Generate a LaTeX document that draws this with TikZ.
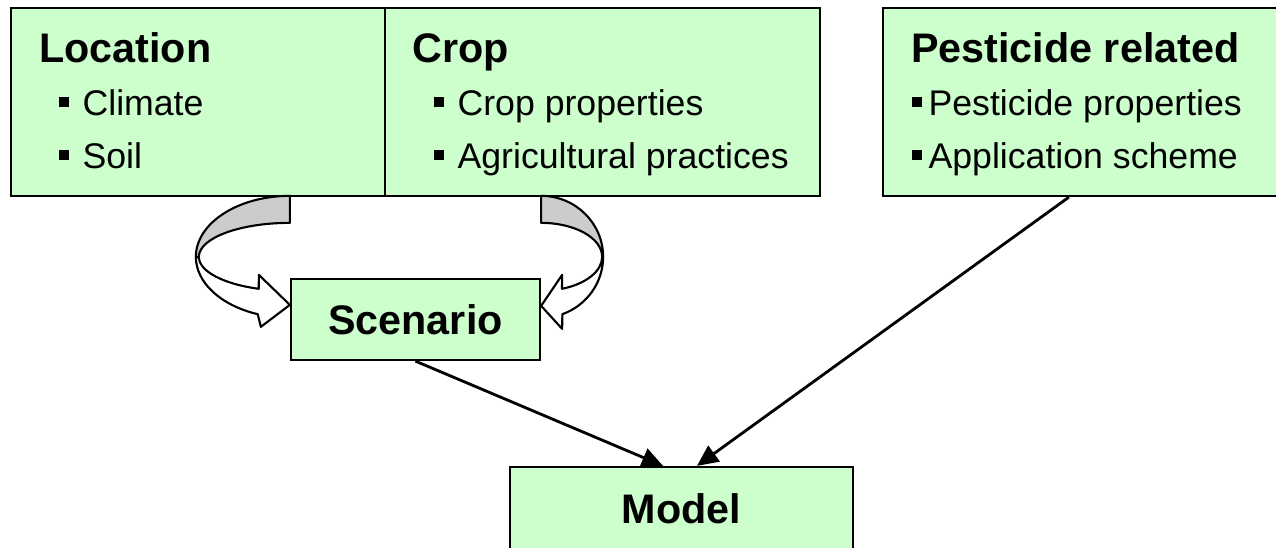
\documentclass[tikz,border=0pt]{standalone}
\usepackage{fontspec}
\setmainfont{Liberation Sans}
\usetikzlibrary{arrows.meta, positioning, calc}
\definecolor{boxgreen}{RGB}{204, 255, 204}
\definecolor{ribbongray}{RGB}{204, 204, 204}
\newcommand{\sqbullet}{\rule[5pt]{5.8pt}{5.8pt}}
\tikzset{
  box/.style={draw=black, fill=boxgreen, line width=1.3pt, inner sep=0pt},
  headtext/.style={anchor=base west, inner sep=0pt, font=\fontsize{23.5}{28}\selectfont\bfseries},
  itemtext/.style={anchor=base west, inner sep=0pt, font=\fontsize{20.3}{24}\selectfont},
  ribbon/.style={draw=black, line width=1.2pt, line join=round},
  link/.style={draw=black, line width=1.6pt, -{Triangle[length=12pt, width=11pt]}}
}

\begin{document}
\begin{tikzpicture}
  \clip (0, 0) rectangle (25.52, -10.94);
  \fill[white] (0, 0) rectangle (25.52, -10.94);

  % The three input boxes
  \node[box, minimum width=7.48cm, minimum height=3.76cm] (location) at (3.96, -2.04) {};
  \node[box, minimum width=8.7cm, minimum height=3.76cm] (crop) at (12.05, -2.04) {};
  \node[box, minimum width=8.1cm, minimum height=3.76cm] (pesticide) at (21.71, -2.04) {};

  \node[headtext] (locationhead) at ($(location.north west)+(0.58, -1.12)$) {Location};
  \node[itemtext] (climate) at ($(location.north west)+(0.98, -2.18)$) {\sqbullet\hspace{7.5pt}Climate};
  \node[itemtext] (soil) at ($(location.north west)+(0.98, -3.24)$) {\sqbullet\hspace{7.5pt}Soil};

  \node[headtext] (crophead) at ($(crop.north west)+(0.56, -1.12)$) {Crop};
  \node[itemtext] (cropprop) at ($(crop.north west)+(1.00, -2.18)$) {\sqbullet\hspace{7.5pt}Crop properties};
  \node[itemtext] (practices) at ($(crop.north west)+(1.00, -3.24)$) {\sqbullet\hspace{7.5pt}Agricultural practices};

  \node[headtext] (pesthead) at ($(pesticide.north west)+(0.58, -1.12)$) {Pesticide related};
  \node[itemtext] (pestprop) at ($(pesticide.north west)+(0.60, -2.18)$) {\sqbullet\hspace{3.5pt}Pesticide properties};
  \node[itemtext] (scheme) at ($(pesticide.north west)+(0.60, -3.24)$) {\sqbullet\hspace{3.5pt}Application scheme};

  % Scenario and model
  \node[box, minimum width=4.98cm, minimum height=1.62cm, font=\fontsize{23.5}{28}\selectfont\bfseries] (scenario) at (8.31, -6.39) {Scenario};
  \node[box, minimum width=6.86cm, minimum height=1.68cm, font=\fontsize{23.5}{28}\selectfont\bfseries] (model) at (13.63, -10.18) {Model};

  % Curved ribbon arrows into the scenario
  \coordinate (lc) at ($(scenario.north west)+(0, 0.42)$);
  \coordinate (rc) at ($(scenario.north east)+(0, 0.42)$);

  \draw[ribbon, fill=ribbongray] ($(lc)+(0, 1.22)$)
    arc[start angle=90, end angle=180, x radius=1.88cm, y radius=1.22cm] -- ++(0.06, 0)
    arc[start angle=180, end angle=90, x radius=1.82cm, y radius=0.68cm] -- cycle;
  \draw[ribbon, fill=white] ($(lc)+(-1.88, 0)$)
    arc[start angle=180, end angle=250, x radius=1.88cm, y radius=1.22cm]
    -- ($(lc)+(-0.58, -1.40)$) -- ($(lc)+(0, -0.96)$) -- ($(lc)+(-0.62, -0.36)$)
    -- ($(lc)+(250:1.82cm and 0.68cm)$)
    arc[start angle=250, end angle=180, x radius=1.82cm, y radius=0.68cm] -- cycle;

  \draw[ribbon, fill=ribbongray] ($(rc)+(0, 1.22)$)
    arc[start angle=90, end angle=0, x radius=1.24cm, y radius=1.22cm] -- ++(-0.02, 0)
    arc[start angle=0, end angle=90, x radius=1.22cm, y radius=0.68cm] -- cycle;
  \draw[ribbon, fill=white] ($(rc)+(1.24, 0)$)
    arc[start angle=0, end angle=-70, x radius=1.24cm, y radius=1.22cm]
    -- ($(rc)+(0.42, -1.44)$) -- ($(rc)+(0, -0.98)$) -- ($(rc)+(0.42, -0.36)$)
    -- ($(rc)+(-70:1.22cm and 0.68cm)$)
    arc[start angle=-70, end angle=0, x radius=1.22cm, y radius=0.68cm] -- cycle;

  % Arrows into the model
  \draw[link] (scenario.south) -- ($(model.north)+(-0.37, 0)$);
  \draw[link] ($(pesticide.south west)+(3.74, 0)$) -- ($(model.north)+(0.31, 0)$);
\end{tikzpicture}
\end{document}
